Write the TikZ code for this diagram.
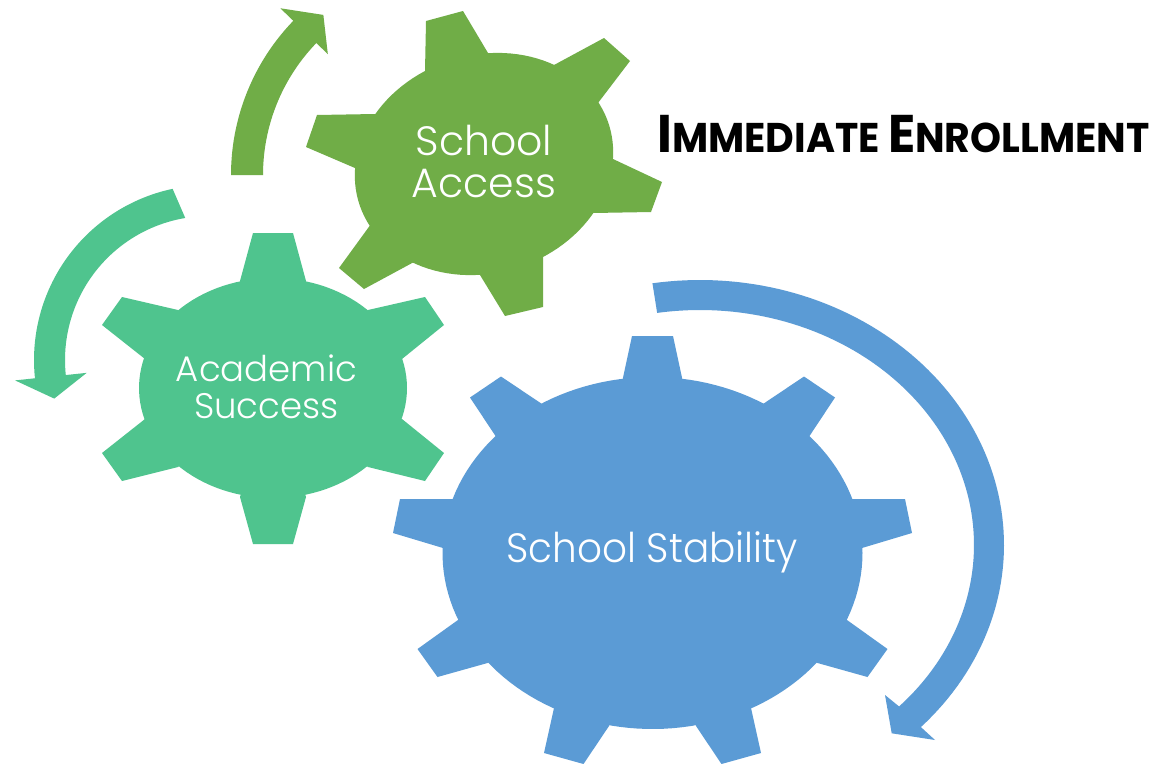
\documentclass[tikz,border=0pt]{standalone}
\usepackage{fontspec}
\IfFontExistsTF{Poppins Light}{\newfontfamily\gearfont{Poppins Light}}{\newfontfamily\gearfont{Poppins}}
\newfontfamily\titlefont{Poppins}
\definecolor{gGreen}{HTML}{70AD47}
\definecolor{gTeal}{HTML}{4FC48E}
\definecolor{gBlue}{HTML}{5B9BD5}
\begin{document}
\begin{tikzpicture}[x=1pt,y=-1pt,
  greenfill/.style={fill=gGreen},
  tealfill/.style={fill=gTeal},
  bluefill/.style={fill=gBlue},
  gearlabel/.style={text=white, align=center, inner sep=0pt}]
\useasboundingbox (0,0) rectangle (1169,763);
\fill[white] (0,0) rectangle (1169,763);
\clip (0,0) rectangle (1169,763);

% ---------- green gear (School Access) ----------
\fill[greenfill] plot[domain=0:360, samples=120, variable=\t]
  ({484 + 131*cos(\t)*cos(-17.3) - 109*sin(\t)*sin(-17.3)},
   {164 + 131*cos(\t)*sin(-17.3) + 109*sin(\t)*cos(-17.3)}) -- cycle;
\fill[greenfill] (484,164) -- (425,71) -- (426,21) -- (463,11) -- (488,53) -- cycle;
\fill[greenfill] (484,164) -- (554,65) -- (604,38) -- (630,61) -- (598,103) -- cycle;
\fill[greenfill] (484,164) -- (613,159) -- (662,182) -- (651,212) -- (593,213) -- cycle;
\fill[greenfill] (484,164) -- (543,257) -- (543,307) -- (505,316) -- (480,275) -- cycle;
\fill[greenfill] (484,164) -- (414,262) -- (364,289) -- (339,268) -- (371,224) -- cycle;
\fill[greenfill] (484,164) -- (355,168) -- (306,147) -- (317,115) -- (375,114) -- cycle;

% ---------- teal gear (Academic Success) ----------
\fill[tealfill] plot[domain=0:360, samples=120, variable=\t]
  ({273 + 134*cos(\t)}, {388 + 110*sin(\t)}) -- cycle;
\fill[tealfill] (273,388) -- (240,281) -- (253,233) -- (293,233) -- (306,281) -- cycle;
\fill[tealfill] (273,388) -- (368,310) -- (425,297) -- (444,325) -- (402,359) -- cycle;
\fill[tealfill] (273,388) -- (402,419) -- (444,453) -- (425,481) -- (368,467) -- cycle;
\fill[tealfill] (273,388) -- (306,497) -- (293,544) -- (253,544) -- (240,497) -- cycle;
\fill[tealfill] (273,388) -- (178,467) -- (122,481) -- (102,453) -- (145,419) -- cycle;
\fill[tealfill] (273,388) -- (145,359) -- (102,325) -- (122,297) -- (178,310) -- cycle;

% ---------- blue gear (School Stability) ----------
\fill[bluefill] plot[domain=0:360, samples=150, variable=\t]
  ({652.5 + 210*cos(\t)}, {553 + 176*sin(\t)}) -- cycle;
\fill[bluefill] (652.5,553) -- (622.5,380) -- (632,336) -- (673,336) -- (682.5,380) -- cycle;
\fill[bluefill] (652.5,553) -- (763,404) -- (804,376.5) -- (835,397.5) -- (809.5,436) -- cycle;
\fill[bluefill] (652.5,553) -- (852,499) -- (905,499) -- (912,533) -- (862,548) -- cycle;
\fill[bluefill] (652.5,553) -- (847,620) -- (887.5,649) -- (867.5,677) -- (817.5,663) -- cycle;
\fill[bluefill] (652.5,553) -- (751,708) -- (761,753) -- (721.5,764) -- (696,726) -- cycle;
\fill[bluefill] (652.5,553) -- (609,726) -- (583.5,764) -- (544,753) -- (554,708) -- cycle;
\fill[bluefill] (652.5,553) -- (487.5,663) -- (437.5,677) -- (417.5,649) -- (458,620) -- cycle;
\fill[bluefill] (652.5,553) -- (443,548) -- (393,533) -- (400,499) -- (453,499) -- cycle;
\fill[bluefill] (652.5,553) -- (495.5,436) -- (470,397.5) -- (501,376.5) -- (542,404) -- cycle;

% ---------- green circular arrow ----------
\fill[greenfill] plot[domain=180:224, samples=40, variable=\t]
   ({453+222*cos(\t)},{175+222*sin(\t)})
  -- ({453+240*cos(224)},{175+240*sin(224)})
  -- ({453+206*cos(231)},{175+206*sin(231)})
  -- ({453+174*cos(224)},{175+174*sin(224)})
  -- plot[domain=224:180, samples=40, variable=\t]
   ({453+190*cos(\t)},{175+190*sin(\t)}) -- cycle;

% ---------- teal circular arrow ----------
\fill[tealfill] plot[domain=258:174, samples=50, variable=\t]
   ({209+175*cos(\t)},{360+175*sin(\t)})
  -- ({209+195*cos(174)},{360+195*sin(174)})
  -- ({209+159.5*cos(166)},{360+159.5*sin(166)})
  -- ({209+123*cos(174)},{360+123*sin(174)})
  -- plot[domain=174:260.5, samples=50, variable=\t]
   ({209+144*cos(\t)},{360+144*sin(\t)}) -- cycle;

% ---------- blue circular arrow (elliptical) ----------
\fill[bluefill] plot[domain=-99:43.4, samples=90, variable=\t]
   ({700+304*cos(\t)},{545+265*sin(\t)})
  -- (935,740) -- (891.7,733.3) -- (885,695)
  -- plot[domain=43.4:-99, samples=90, variable=\t]
   ({700+274*cos(\t)},{545+235*sin(\t)}) -- cycle;

% ---------- labels ----------
\node[gearlabel, font={\gearfont\fontsize{41}{42}\selectfont}] (access) at (484,161) {School\\Access};
\node[gearlabel, font={\gearfont\fontsize{35.5}{37}\selectfont}] (academic) at (266.5,387) {Academic\\Success};
\node[gearlabel, anchor=base, font={\gearfont\fontsize{41}{43}\selectfont}] (stability) at (652,562) {\scalebox{0.95}[1]{School Stability}};
\node[anchor=base west, inner sep=0pt, text=black] (title) at (657,152)
  {\titlefont\bfseries\scalebox{0.95}[1]{{\fontsize{53}{53}\selectfont I}{\fontsize{41.5}{41.5}\selectfont MMEDIATE }{\fontsize{53}{53}\selectfont E}{\fontsize{41.5}{41.5}\selectfont NROLLMENT}}};
\end{tikzpicture}
\end{document}
